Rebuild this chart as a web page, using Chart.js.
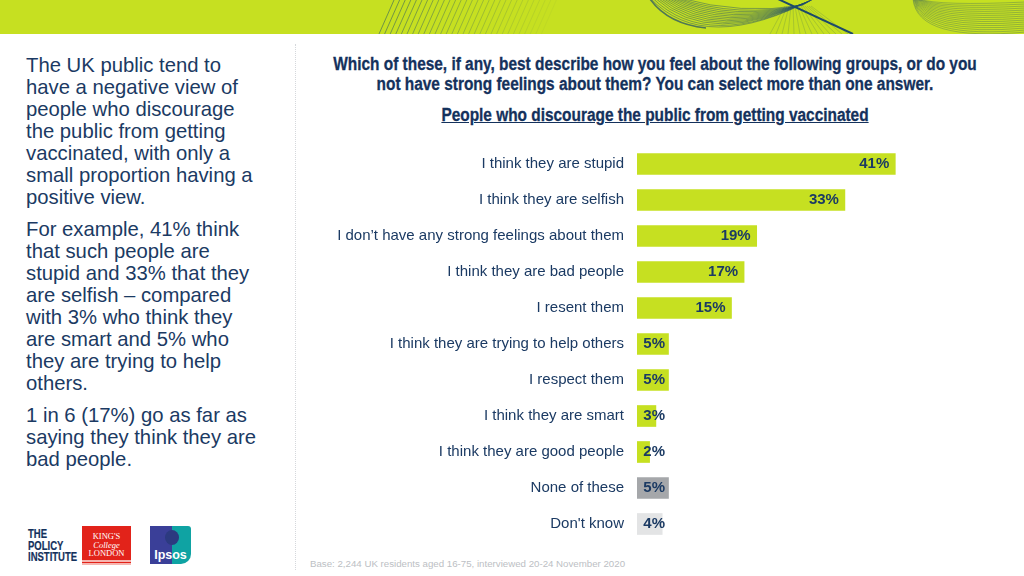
<!DOCTYPE html>
<html>
<head>
<meta charset="utf-8">
<script src="https://cdn.jsdelivr.net/npm/chart.js@4"></script>
<style>
  html, body { margin: 0; padding: 0; background: #fff; }
  body { width: 1024px; height: 576px; position: relative; overflow: hidden; font-family: 'Liberation Sans', Arial, sans-serif; color: #1b3a63; }
  .banner { position: absolute; left: 0; top: 0; width: 1024px; height: 34px; background: #c6e021; overflow: hidden; }
  .banner svg { position: absolute; left: 0; top: 0; }
  .divider { position: absolute; left: 295px; top: 44px; height: 526px; border-left: 1px dotted #d5d8dc; }
  .side { position: absolute; left: 26px; top: 54px; width: 265px; font-size: 20.3px; line-height: 22px; white-space: nowrap; }
  .side p { margin: 0 0 10px 0; }
  .title, .subtitle { position: absolute; left: 255px; width: 800px; text-align: center; font-weight: bold; font-size: 18px; white-space: nowrap; transform: scaleX(0.856); -webkit-text-stroke: 0.3px #14315c; color: #14315c; }
  .title { top: 54px; line-height: 20px; }
  .subtitle { top: 105px; line-height: 21px; text-decoration: underline; }
  .chart-box { position: absolute; left: 300px; top: 146px; width: 715px; height: 396px; }
  .base { position: absolute; left: 310px; top: 558px; font-size: 9.7px; color: #bcc0c4; }
  .tpi { position: absolute; left: 28px; top: 529px; font-weight: bold; font-size: 12.5px; line-height: 11.5px; color: #14315c; transform: scaleX(0.76); transform-origin: left top; -webkit-text-stroke: 0.2px #14315c; }
  .kings { position: absolute; left: 82px; top: 526px; width: 49px; height: 39px; background: #e2231a; color: #fff; font-family: 'Liberation Serif', serif; font-size: 8.5px; line-height: 8.5px; text-align: center; padding-top: 6px; box-sizing: border-box; border-bottom: 5px double #f6b5b0; }
  .ipsos { position: absolute; left: 150px; top: 526px; width: 41px; height: 38px; background: linear-gradient(90deg, #3a3f98 0 53%, #0fa3a3 53% 100%); border-radius: 0 3px 10px 0; color: #fff; font-size: 12.5px; font-weight: bold; text-align: center; line-height: 12px; padding-top: 23px; box-sizing: border-box; }
  .ipsos i { position: absolute; left: 15px; top: 4px; width: 14px; height: 15px; border-radius: 50%; background: #2c3a80; }
</style>
</head>
<body>
<div class="banner"><svg id="waves" width="1024" height="34"></svg></div>
<div class="divider"></div>

<div class="side">
  <p>The UK public tend to<br>have a negative view of<br>people who discourage<br>the public from getting<br>vaccinated, with only a<br>small proportion having a<br>positive view.</p>
  <p>For example, 41% think<br>that such people are<br>stupid and 33% that they<br>are selfish – compared<br>with 3% who think they<br>are smart and 5% who<br>they are trying to help<br>others.</p>
  <p>1 in 6 (17%) go as far as<br>saying they think they are<br>bad people.</p>
</div>

<div class="title">Which of these, if any, best describe how you feel about the following groups, or do you<br>not have strong feelings about them? You can select more than one answer.</div>
<div class="subtitle">People who discourage the public from getting vaccinated</div>

<div class="chart-box"><canvas id="chart"></canvas></div>

<div class="tpi">THE<br>POLICY<br>INSTITUTE</div>
<div class="kings">KING'S<br><i>College</i><br>LONDON</div>
<div class="ipsos"><i></i>Ipsos</div>
<div class="base">Base: 2,244 UK residents aged 16-75, interviewed 20-24 November 2020</div>

<script>
const categories = [
  'I think they are stupid',
  'I think they are selfish',
  'I don\u2019t have any strong feelings about them',
  'I think they are bad people',
  'I resent them',
  'I think they are trying to help others',
  'I respect them',
  'I think they are smart',
  'I think they are good people',
  'None of these',
  'Don\'t know'
];
const percents = [41, 33, 19, 17, 15, 5, 5, 3, 2, 5, 4];
const barColors = ['#c6e021', '#c6e021', '#c6e021', '#c6e021', '#c6e021', '#c6e021', '#c6e021', '#c6e021', '#c6e021', '#a5a7aa', '#e3e4e5'];

const navy = '#1b3a63';

// percent labels sit inside the bar end, short bars get pushed to a fixed spot
const barLabels = {
  id: 'barLabels',
  afterDatasetsDraw(chart) {
    const ctx = chart.ctx;
    const meta = chart.getDatasetMeta(0);
    ctx.save();
    ctx.font = 'bold 15px "Liberation Sans"';
    ctx.fillStyle = navy;
    ctx.textAlign = 'right';
    ctx.textBaseline = 'middle';
    meta.data.forEach((bar, i) => {
      const x = Math.max(bar.x - 6, bar.base + 28);
      ctx.fillText(percents[i] + '%', x, bar.y);
    });
    ctx.restore();
  }
};

new Chart(document.getElementById('chart'), {
  type: 'bar',
  data: {
    labels: categories,
    datasets: [{
      data: percents,
      backgroundColor: barColors,
      barThickness: 21
    }]
  },
  options: {
    indexAxis: 'y',
    responsive: true,
    maintainAspectRatio: false,
    animation: false,
    layout: { padding: 0 },
    plugins: {
      legend: { display: false },
      tooltip: { enabled: false }
    },
    scales: {
      x: {
        display: false,
        min: 0,
        max: 60,
        grid: { display: false }
      },
      y: {
        grid: { display: false },
        border: { display: false },
        afterFit(scale) {
          scale.width = 337;
          scale.paddingTop = 0;
          scale.paddingBottom = 0;
        },
        ticks: {
          color: navy,
          padding: 5,
          autoSkip: false,
          font: { family: 'Liberation Sans', size: 15 }
        }
      }
    }
  },
  plugins: [barLabels]
});

// banner decoration only, thin line fans in the top strip
const stroke = '#1d4a6b';
let waves = '';
for (let k = 0; k < 30; k++) {
  const a = 379 + k * 5.6;
  waves += '<line x1="' + a + '" y1="34" x2="' + (a + 15) + '" y2="0" stroke="' + stroke + '" stroke-width="0.6" opacity="' + (0.85 - k * 0.027) + '"/>';
}
for (let k = 0; k < 13; k++) {
  waves += '<path d="M' + (650 + k * 2.5) + ' -2 Q' + (705 + k * 3) + ' ' + (56 - k * 3.4) + ' ' + (815 - k) + ' ' + (-2 + k * 0.6) + '" fill="none" stroke="' + stroke + '" stroke-width="0.6" opacity="0.75"/>';
}
waves += '<path d="M650 -1 Q668 24 706 28" fill="none" stroke="' + stroke + '" stroke-width="1.6" opacity="0.7"/>';
waves += '<line x1="778" y1="-1" x2="853" y2="34" stroke="' + stroke + '" stroke-width="2"/>';
for (let k = 0; k < 14; k++) {
  waves += '<line x1="' + (770 + k * 6) + '" y1="34" x2="' + (785 + k * 2) + '" y2="6" stroke="' + stroke + '" stroke-width="0.4" opacity="0.45"/>';
}
for (let k = 0; k < 16; k++) {
  waves += '<path d="M' + (913 + k * 0.4) + ' -1 Q' + (917 + k * 1.5) + ' ' + (42 - k * 2.4) + ' 1026 ' + (32 - k * 2) + '" fill="none" stroke="' + stroke + '" stroke-width="0.5" opacity="0.6"/>';
}
document.getElementById('waves').innerHTML = waves;
</script>
</body>
</html>
